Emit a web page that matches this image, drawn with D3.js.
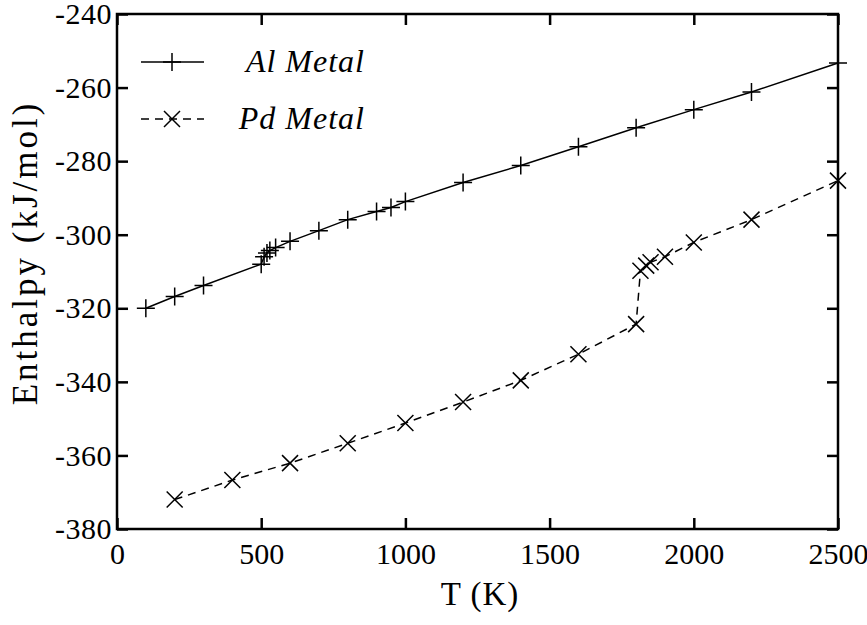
<!DOCTYPE html>
<html>
<head>
<meta charset="utf-8">
<script src="https://cdn.jsdelivr.net/npm/d3@7"></script>
<style>
  body { margin: 0; background: #fff; }
  svg { display: block; }
  text { font-family: "Liberation Serif", "DejaVu Serif", serif; fill: #000; }
</style>
</head>
<body>
<div id="chart"></div>
<script>
// Al metal (+ markers)
var alT = [100, 200, 300, 500, 510, 520, 530, 550, 600, 700, 800, 900, 950, 1000, 1200, 1400, 1600, 1800, 2000, 2200, 2500]
var alH = [-320, -316.8, -313.8, -308, -306, -305, -304.3, -303.5, -301.8, -298.9, -295.9, -293.7, -292.6, -291, -285.8, -281.2, -276.1, -270.9, -266, -261.2, -253.3]
// Pd metal (x markers)
var pdT = [200, 400, 600, 800, 1000, 1200, 1400, 1600, 1800, 1815, 1835, 1850, 1900, 2000, 2200, 2500]
var pdH = [-372, -366.7, -362.1, -356.7, -351.2, -345.5, -339.6, -332.5, -324.3, -309.8, -308.4, -307.5, -306, -302.1, -295.9, -285.3]

var xTicks = [0, 500, 1000, 1500, 2000, 2500]
var yTicks = [-380, -360, -340, -320, -300, -280, -260, -240]
var seriesNames = ["Al Metal", "Pd Metal"]

function draw() {
  var W = 867, H = 625
  var x0 = 117, x1 = 838, y0 = 14, y1 = 529

  var x = d3.scaleLinear().domain([0, 2500]).range([x0, x1])
  var y = d3.scaleLinear().domain([-380, -240]).range([y1, y0])

  var svg = d3.select("#chart").append("svg").attr("width", W).attr("height", H)

  function zip(a, b) { return a.map(function(v, i) { return [v, b[i]] }) }
  var alData = zip(alT, alH)
  var pdData = zip(pdT, pdH)

  var line = d3.line().x(function(d) { return x(d[0]) }).y(function(d) { return y(d[1]) })

  // curves
  svg.append("path").attr("d", line(alData))
    .attr("fill", "none").attr("stroke", "#000").attr("stroke-width", 1.5)
  svg.append("path").attr("d", line(pdData))
    .attr("fill", "none").attr("stroke", "#000").attr("stroke-width", 1.5)
    .attr("stroke-dasharray", "8,6")

  function plus(g, cx, cy, s) {
    g.append("path").attr("d", "M" + (cx - s) + "," + cy + "H" + (cx + s) + "M" + cx + "," + (cy - s) + "V" + (cy + s))
      .attr("stroke", "#000").attr("stroke-width", 1.5).attr("fill", "none")
  }
  function cross(g, cx, cy, s) {
    g.append("path").attr("d", "M" + (cx - s) + "," + (cy - s) + "L" + (cx + s) + "," + (cy + s) +
                              "M" + (cx - s) + "," + (cy + s) + "L" + (cx + s) + "," + (cy - s))
      .attr("stroke", "#000").attr("stroke-width", 1.5).attr("fill", "none")
  }

  var marks = svg.append("g")
  alData.forEach(function(d) { plus(marks, x(d[0]), y(d[1]), 9) })
  pdData.forEach(function(d) { cross(marks, x(d[0]), y(d[1]), 8) })

  // frame with inward ticks on all sides
  var tl = 11
  var axisBottom = d3.axisBottom(x).tickValues(xTicks).tickSize(-tl).tickPadding(14).tickFormat(d3.format("d"))
  var axisTop = d3.axisTop(x).tickValues(xTicks).tickSize(-tl).tickFormat("")
  var axisLeft = d3.axisLeft(y).tickValues(yTicks).tickSize(-tl).tickPadding(5).tickFormat(function(d) { return "-" + Math.abs(d) })
  var axisRight = d3.axisRight(y).tickValues(yTicks).tickSize(-tl).tickFormat("")

  function style(g, spacing) {
    g.select(".domain").remove()
    g.selectAll("line").attr("stroke", "#000").attr("stroke-width", 2.5)
    g.selectAll("text").attr("font-size", 30).attr("letter-spacing", spacing)
  }
  svg.append("g").attr("transform", "translate(0," + y1 + ")").call(axisBottom).call(style, 0)
  svg.append("g").attr("transform", "translate(0," + y0 + ")").call(axisTop).call(style, 0)
  svg.append("g").attr("transform", "translate(" + x0 + ",0)").call(axisLeft).call(style, 0.5)
  svg.append("g").attr("transform", "translate(" + x1 + ",0)").call(axisRight).call(style, 0)

  svg.append("rect").attr("x", x0).attr("y", y0).attr("width", x1 - x0).attr("height", y1 - y0)
    .attr("fill", "none").attr("stroke", "#000").attr("stroke-width", 2.5)

  // axis titles
  svg.append("text").attr("x", 480).attr("y", 605).attr("text-anchor", "middle")
    .attr("font-size", 33).attr("letter-spacing", 1).text("T (K)")
  svg.append("text").attr("transform", "translate(37,253) rotate(-90)").attr("text-anchor", "middle")
    .attr("font-size", 35).attr("letter-spacing", 3).text("Enthalpy (kJ/mol)")

  // legend
  var lg = svg.append("g")
  var legY = [62, 119]
  lg.append("line").attr("x1", 141).attr("x2", 204).attr("y1", legY[0]).attr("y2", legY[0])
    .attr("stroke", "#000").attr("stroke-width", 1.5)
  plus(lg, 172, legY[0], 9)
  lg.append("line").attr("x1", 141).attr("x2", 204).attr("y1", legY[1]).attr("y2", legY[1])
    .attr("stroke", "#000").attr("stroke-width", 1.5).attr("stroke-dasharray", "8,6")
  cross(lg, 172, legY[1], 8)
  seriesNames.forEach(function(name, i) {
    lg.append("text").attr("x", 365).attr("y", legY[i] + 10).attr("text-anchor", "end")
      .attr("font-size", 32).attr("letter-spacing", 1).attr("font-style", "italic").text(name)
  })
}
draw()
</script>
</body>
</html>
